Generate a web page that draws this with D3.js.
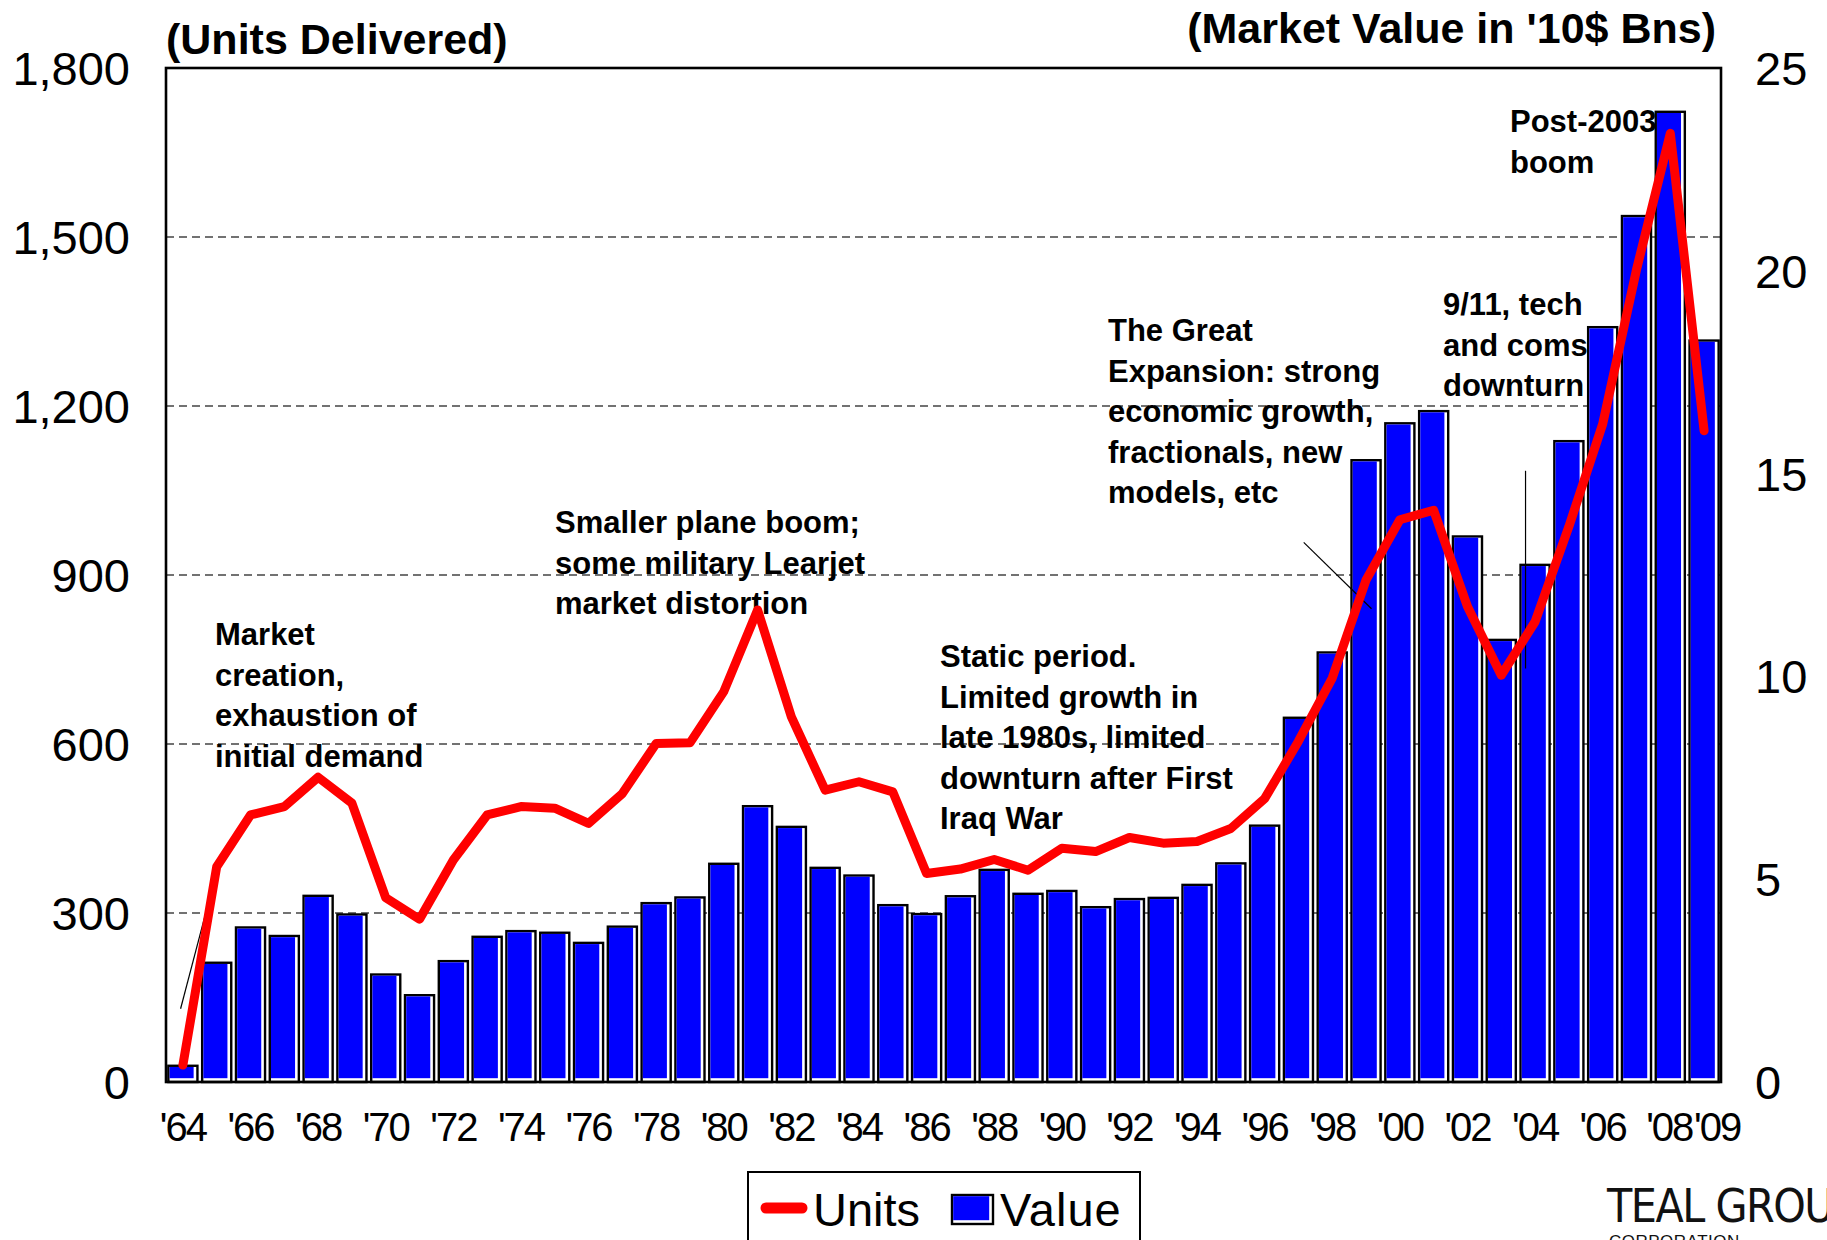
<!DOCTYPE html>
<html><head><meta charset="utf-8">
<script src="https://cdn.jsdelivr.net/npm/d3@7"></script>
<style>html,body{margin:0;padding:0;background:#fff;} svg{display:block;}</style>
</head><body>
<svg id="chart" width="1827" height="1240"></svg>
<script>
// ---------- DATA ----------
const years = [1964,1965,1966,1967,1968,1969,1970,1971,1972,1973,1974,1975,1976,1977,1978,1979,
  1980,1981,1982,1983,1984,1985,1986,1987,1988,1989,1990,1991,1992,1993,1994,1995,1996,1997,1998,1999,
  2000,2001,2002,2003,2004,2005,2006,2007,2008,2009];
const units = [30,382,474,489,541,495,327,289,394,474,489,486,459,512,601,602,
  693,838,648,518,533,515,370,378,395,376,415,409,434,424,427,450,503,605,717,891,
  998,1015,844,722,817,986,1168,1442,1684,1156];
const marketValue = [0.40,2.94,3.81,3.60,4.59,4.13,2.65,2.14,2.98,3.58,3.72,3.68,3.43,3.83,4.41,4.55,
  5.38,6.80,6.29,5.28,5.09,4.36,4.14,4.58,5.23,4.64,4.71,4.31,4.51,4.54,4.86,5.39,6.32,8.98,10.59,15.33,
  16.24,16.54,13.45,10.90,12.75,15.80,18.61,21.35,23.92,18.28];
const xTickYears = [1964,1966,1968,1970,1972,1974,1976,1978,1980,1982,1984,1986,1988,1990,1992,1994,
  1996,1998,2000,2002,2004,2006,2008,2009];
const leftTicks = [0,300,600,900,1200,1500,1800];
const rightTicks = [0,5,10,15,20,25];
const leftTitle = "(Units Delivered)";
const rightTitle = "(Market Value in '10$ Bns)";
const seriesNames = ["Units","Value"];
const noteTexts = [
  ["Market","creation,","exhaustion of","initial demand"],
  ["Smaller plane boom;","some military Learjet","market distortion"],
  ["Static period.","Limited growth in","late 1980s, limited","downturn after First","Iraq War"],
  ["The Great","Expansion: strong","economic growth,","fractionals, new","models, etc"],
  ["9/11, tech","and coms","downturn"],
  ["Post-2003","boom"]
];

// ---------- LAYOUT ----------
const FONT = "'Liberation Sans', Arial, Helvetica, sans-serif";
const L = 166, R = 1721, T = 68, B = 1082;
const notePos = [[215,645],[555,533],[940,667],[1108,341],[1443,315],[1510,132]];
const notePitch = 40.6;

const svg = d3.select("#chart");
const x = d3.scaleBand().domain(years).range([L, R]).paddingInner(0.14).paddingOuter(0.07);
const bw = x.bandwidth();
const yL = d3.scaleLinear().domain([0, 1800]).range([B, T]);
const yR = d3.scaleLinear().domain([0, 25]).range([B, T]);

// gridlines
svg.append("g").selectAll("line").data(leftTicks.filter(d => d > 0 && d < 1800)).join("line")
  .attr("x1", L).attr("x2", R).attr("y1", d => yL(d)).attr("y2", d => yL(d))
  .attr("stroke", "#444").attr("stroke-width", 1.3).attr("stroke-dasharray", "8,5");

// annotation texts (behind bars)
const notesG = svg.append("g").attr("font-family", FONT).attr("font-weight", "bold")
  .attr("font-size", 31).attr("fill", "#000");
noteTexts.forEach((lines, i) => {
  const t = notesG.append("text").attr("x", notePos[i][0]).attr("y", notePos[i][1]);
  lines.forEach((ln, j) => t.append("tspan").attr("x", notePos[i][0]).attr("dy", j === 0 ? 0 : notePitch).text(ln));
});

// bars
function drawBar(g, x0, y0, w, h) {
  const sw = 2.4, gap = 2.6;
  g.append("rect").attr("x", x0).attr("y", y0).attr("width", w).attr("height", h)
    .attr("fill", "#fff").attr("stroke", "#000").attr("stroke-width", sw);
  g.append("rect").attr("x", x0 + sw/2).attr("y", y0 + sw/2)
    .attr("width", Math.max(0, w - sw - gap)).attr("height", Math.max(0, h - sw - gap))
    .attr("fill", "#0000FF");
}
const barsG = svg.append("g");
years.forEach((yr, i) => {
  const g = barsG.append("g");
  drawBar(g, x(yr), yR(marketValue[i]), bw, yR(0) - yR(marketValue[i]));
});

// leader lines
const lead = svg.append("g").attr("stroke", "#000").attr("stroke-width", 1.2);
lead.append("line").attr("x1", x(1964) + bw*0.42).attr("y1", yL(130)).attr("x2", x(1965) + bw*0.3).attr("y2", yL(335));
lead.append("line").attr("x1", x(1998) - 14).attr("y1", yL(958)).attr("x2", x(1999) + 20).attr("y2", yL(840));
lead.append("line").attr("x1", x(2004) + 5).attr("y1", yL(1085)).attr("x2", x(2004) + 5).attr("y2", yL(734));

// units line
const lineGen = d3.line().x((d, i) => x(years[i]) + bw/2).y(d => yL(d));
svg.append("path").datum(units).attr("d", lineGen).attr("fill", "none")
  .attr("stroke", "#FF0000").attr("stroke-width", 9)
  .attr("stroke-linejoin", "round").attr("stroke-linecap", "round");

// frame
svg.append("rect").attr("x", L).attr("y", T).attr("width", R - L).attr("height", B - T)
  .attr("fill", "none").attr("stroke", "#000").attr("stroke-width", 2.6);

// axes
const axL = svg.append("g").attr("transform", `translate(${L - 36},0)`)
  .call(d3.axisLeft(yL).tickValues(leftTicks).tickSize(0).tickFormat(d3.format(",")));
axL.select(".domain").remove();
axL.selectAll("text").attr("font-family", FONT).attr("font-size", 47).attr("fill", "#000").attr("dy", "0.35em").attr("x", 0);

const axR = svg.append("g").attr("transform", `translate(${R + 34},0)`)
  .call(d3.axisRight(yR).tickValues(rightTicks).tickSize(0));
axR.select(".domain").remove();
axR.selectAll("text").attr("font-family", FONT).attr("font-size", 47).attr("fill", "#000").attr("dy", "0.35em").attr("x", 0);

const axB = svg.append("g").attr("transform", `translate(0,${B})`)
  .call(d3.axisBottom(x).tickValues(xTickYears).tickSize(0).tickFormat(d => "'" + String(d).slice(2)));
axB.select(".domain").remove();
axB.selectAll("text").attr("font-family", FONT).attr("font-size", 40).attr("fill", "#000")
  .attr("letter-spacing", -2).attr("y", 59).attr("dy", 0);
axB.selectAll(".tick").filter(d => d === 2009).select("text").attr("dx", 13);
axB.selectAll(".tick").filter(d => d === 2008).select("text").attr("dx", -1);

// titles
svg.append("text").attr("x", L).attr("y", 54).attr("font-family", FONT).attr("font-weight", "bold")
  .attr("font-size", 43).text(leftTitle);
svg.append("text").attr("x", 1716).attr("y", 43).attr("text-anchor", "end").attr("font-family", FONT)
  .attr("font-weight", "bold").attr("font-size", 43).text(rightTitle);

// legend
const lg = svg.append("g");
lg.append("rect").attr("x", 748).attr("y", 1172).attr("width", 392).attr("height", 90)
  .attr("fill", "#fff").attr("stroke", "#000").attr("stroke-width", 2);
lg.append("line").attr("x1", 766).attr("x2", 802).attr("y1", 1208).attr("y2", 1208)
  .attr("stroke", "#FF0000").attr("stroke-width", 11).attr("stroke-linecap", "round");
lg.append("text").attr("x", 813).attr("y", 1226).attr("font-family", FONT).attr("font-size", 47).text(seriesNames[0]);
drawBar(lg, 952, 1195, 41, 29);
lg.append("text").attr("x", 1000).attr("y", 1226).attr("font-family", FONT).attr("font-size", 47)
  .attr("letter-spacing", 1).text(seriesNames[1]);

// logo
svg.append("text").attr("x", 1607).attr("y", 1222).attr("font-family", "'Liberation Sans Narrow', 'DejaVu Sans Condensed', sans-serif")
  .attr("font-size", 46).attr("letter-spacing", -1.5).attr("fill", "#111").text("TEAL GROUP");
svg.append("text").attr("x", 1609).attr("y", 1247).attr("font-family", "'Liberation Sans Narrow', sans-serif")
  .attr("font-size", 17).attr("letter-spacing", 0.5).attr("fill", "#111").text("CORPORATION");
</script>
</body></html>
